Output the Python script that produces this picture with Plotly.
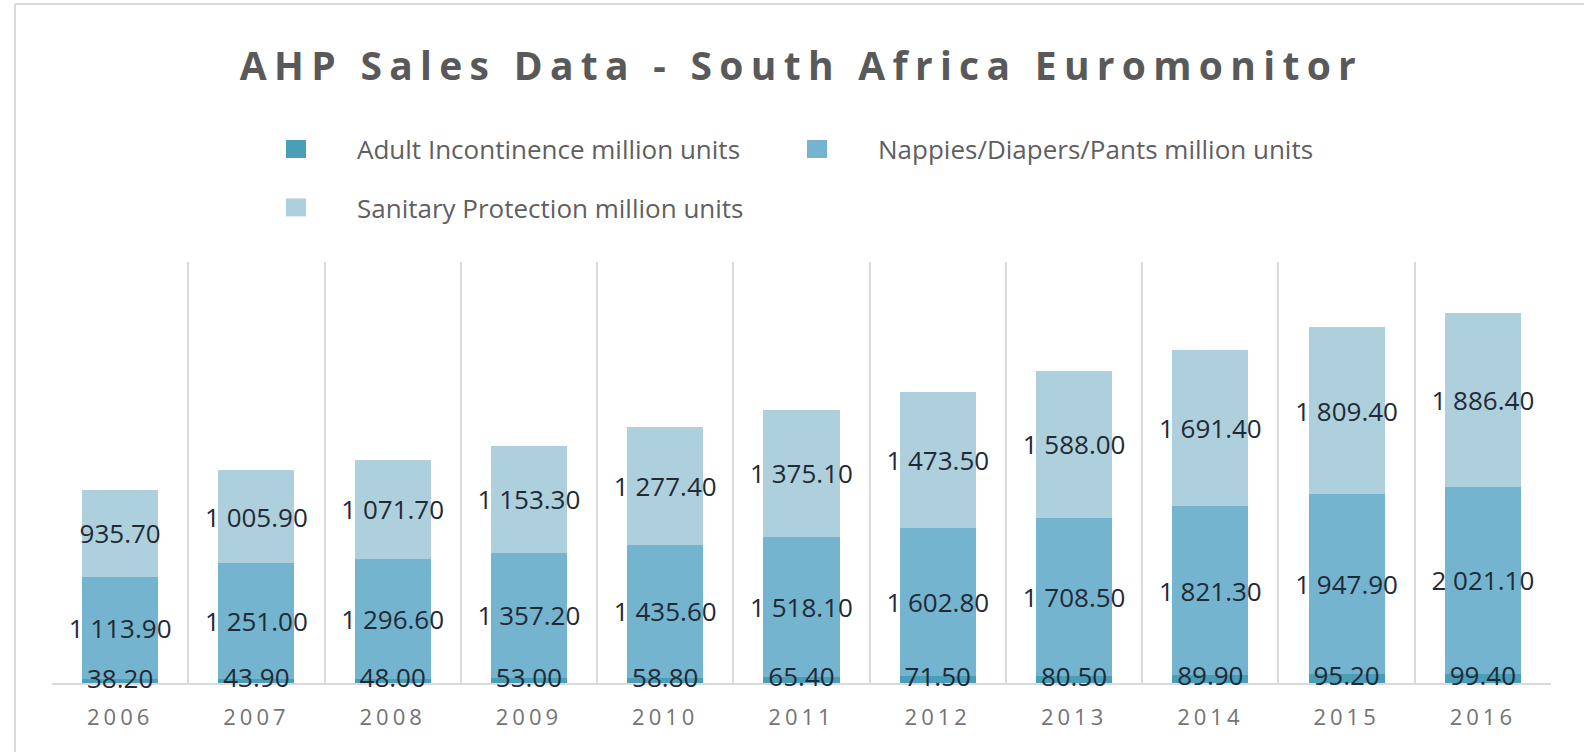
import plotly.graph_objects as go

years = ["2006", "2007", "2008", "2009", "2010", "2011", "2012", "2013", "2014", "2015", "2016"]
adult = [38.2, 43.9, 48.0, 53.0, 58.8, 65.4, 71.5, 80.5, 89.9, 95.2, 99.4]
nappies = [1113.9, 1251.0, 1296.6, 1357.2, 1435.6, 1518.1, 1602.8, 1708.5, 1821.3, 1947.9, 2021.1]
sanitary = [935.7, 1005.9, 1071.7, 1153.3, 1277.4, 1375.1, 1473.5, 1588.0, 1691.4, 1809.4, 1886.4]
series_names = [
    "Adult Incontinence million units",
    "Nappies/Diapers/Pants million units",
    "Sanitary Protection million units",
]
title_text = "AHP Sales Data - South Africa Euromonitor"

W, H = 1584, 752
PL, PR, PT, PB = 52, 1551, 262, 683  # plot area in px


def px_x(p):
    return (p - PL) / (PR - PL)


def px_y(p):
    return (PB - p) / (PB - PT)


colors = ["#4A9EB8", "#74B4CE", "#AED0DD"]
label_font = dict(family="Open Sans", size=26, color="#1f2a36")

fig = go.Figure()
for i, (vals, name, col) in enumerate(zip([adult, nappies, sanitary], series_names, colors)):
    fig.add_trace(go.Bar(
        x=years, y=vals, name=name,
        marker=dict(color=col, line=dict(width=0)),
        texttemplate=None if i == 0 else "%{y:,.2f}",
        textposition="none" if i == 0 else "inside",
        insidetextanchor="middle",
        constraintext="none",
        textangle=0,
        insidetextfont=label_font,
        cliponaxis=False,
        legend="legend" if i == 0 else ("legend2" if i == 1 else "legend3"),
        hoverinfo="skip",
    ))

# labels of the thin bottom segment, drawn on top of everything
fig.add_trace(go.Scatter(
    x=years, y=[v / 2 for v in adult],
    mode="text",
    text=[f"{v:,.2f}".replace(",", " ") for v in adult],
    textposition="middle center",
    textfont=label_font,
    cliponaxis=False,
    showlegend=False,
    hoverinfo="skip",
))

leg_common = dict(
    orientation="h", xanchor="left", yanchor="middle",
    itemwidth=104, bgcolor="rgba(0,0,0,0)", borderwidth=0,
    font=dict(family="Open Sans", size=26, color="#5f5f5f"),
)

fig.update_layout(
    width=W, height=H,
    margin=dict(l=PL, r=W - PR, t=PT, b=H - PB, autoexpand=False),
    paper_bgcolor="white", plot_bgcolor="white",
    barmode="stack", bargap=0.442,
    separators=". ",
    showlegend=True,
    legend=dict(x=px_x(243), y=px_y(149), **leg_common),
    legend2=dict(x=px_x(764), y=px_y(149), **leg_common),
    legend3=dict(x=px_x(243), y=px_y(207.5), **leg_common),
    title=dict(
        text=title_text,
        x=0.5, xref="paper", xanchor="center",
        y=1 - 66 / H, yref="container", yanchor="middle",
        font=dict(family="Open Sans", size=39, color="#595959", weight="bold"),
    ),
    xaxis=dict(
        type="category", tickson="boundaries",
        range=[-0.5, len(years) - 0.5],
        showgrid=True, gridcolor="#d9d9d9", gridwidth=2,
        showline=True, linecolor="#d9d9d9", linewidth=2,
        layer="below traces",
        ticks="", ticklabelstandoff=14,
        tickfont=dict(family="Open Sans", size=22, color="#737373"),
        fixedrange=True,
    ),
    yaxis=dict(range=[0, 4555], visible=False, fixedrange=True),
    shapes=[
        dict(type="line", xref="paper", yref="paper",
             x0=px_x(15), x1=px_x(W + 5), y0=px_y(4), y1=px_y(4),
             line=dict(color="#d9d9d9", width=2)),
        dict(type="line", xref="paper", yref="paper",
             x0=px_x(15), x1=px_x(15), y0=px_y(4), y1=px_y(H + 5),
             line=dict(color="#d9d9d9", width=2)),
    ],
)

post = """
var gd = document.getElementById('{plot_id}');
gd.querySelectorAll('.gtitle').forEach(function(e){ e.style.letterSpacing = '7.3px'; });
gd.querySelectorAll('.xtick text').forEach(function(e){ e.style.letterSpacing = '4px'; });
gd.querySelectorAll('.legendpoints path').forEach(function(e){
    e.removeAttribute('transform');
    e.setAttribute('d', 'M63,9H43V-9H63Z');
});
"""

fig.write_html("out.html", post_script=post, config={"displayModeBar": False})
